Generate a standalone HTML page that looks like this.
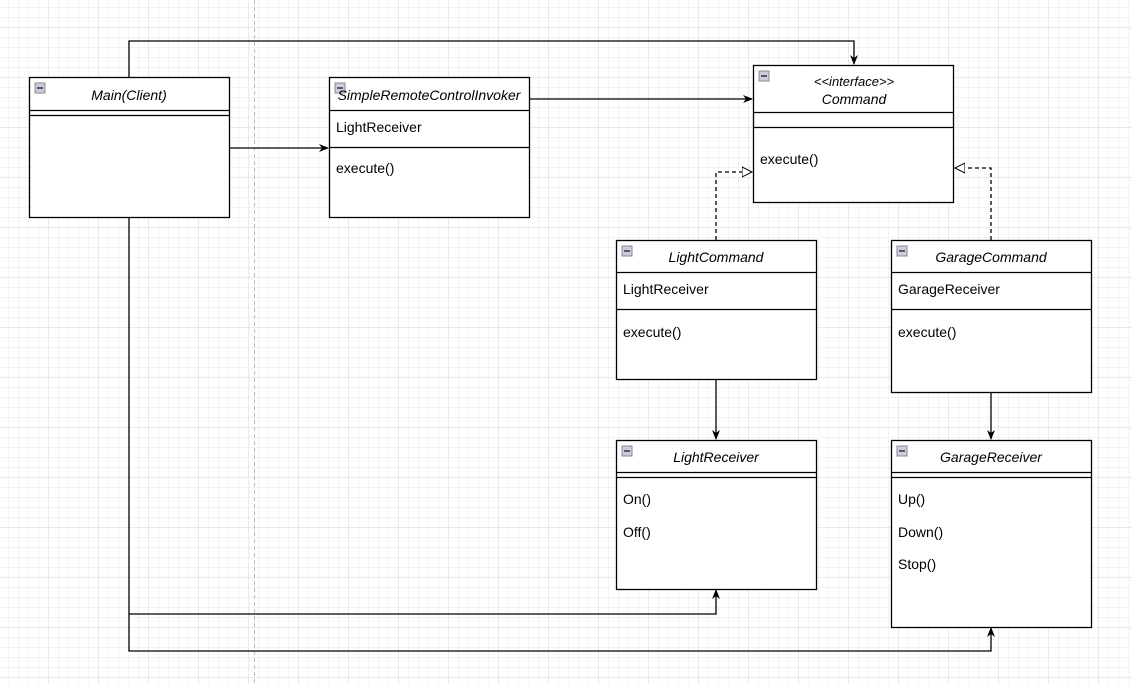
<!DOCTYPE html>
<html><head><style>
html,body{margin:0;padding:0;background:#fff}
svg text{font-family:"Liberation Sans",Arial,sans-serif;font-size:14px;fill:#000}
.t{font-style:italic;text-anchor:middle}
</style></head><body>
<svg width="1132" height="684" xmlns="http://www.w3.org/2000/svg">
<defs>
<pattern id="g" width="10" height="10" patternUnits="userSpaceOnUse" x="9" y="8">
<path d="M10 0V10M0 10H10" stroke="#e9e9e9" stroke-width="1" fill="none"/>
</pattern>
<pattern id="G" width="50" height="50" patternUnits="userSpaceOnUse" x="-1" y="28">
<path d="M50 0V50M0 50H50" stroke="#d4d4d4" stroke-width="1" fill="none"/>
</pattern>
<marker id="a" markerWidth="10" markerHeight="10" refX="9" refY="5" orient="auto" markerUnits="userSpaceOnUse">
<path d="M0 1 L10 5 L0 9 L3 5Z" fill="#000"/></marker>
<marker id="h" markerWidth="12" markerHeight="12" refX="10" refY="6" orient="auto" markerUnits="userSpaceOnUse">
<path d="M0 1 L10 6 L0 11Z" fill="#fff" stroke="#000"/></marker>
<g id="ic"><rect x="0" y="0" width="10" height="10" fill="#ccd" stroke="#889" stroke-width="1"/><path d="M2 5H8" stroke="#333" stroke-width="1.5"/></g>
</defs>
<rect width="1132" height="684" fill="url(#g)"/>
<rect width="1132" height="684" fill="url(#G)"/>
<line x1="254.5" y1="0" x2="254.5" y2="684" stroke="#bbb" stroke-dasharray="4,3"/>
<g fill="none" stroke="#000" stroke-width="1.3">
<path d="M129 77V41H854V64" marker-end="url(#a)"/>
<path d="M229 148H328" marker-end="url(#a)"/>
<path d="M529 99H752" marker-end="url(#a)"/>
<path d="M716 240V172H752" stroke-dasharray="4,3" marker-end="url(#h)"/>
<path d="M991 240V168H955" stroke-dasharray="4,3" marker-end="url(#h)"/>
<path d="M716 379V439" marker-end="url(#a)"/>
<path d="M991 392V439" marker-end="url(#a)"/>
<path d="M129 217V614H716V590" marker-end="url(#a)"/>
<path d="M129 614V651H991V628" marker-end="url(#a)"/>
</g>
<g fill="#fff" stroke="#000" stroke-width="1.3">
<rect x="29.5" y="77.5" width="200" height="140"/>
<rect x="329.5" y="77.5" width="200" height="140"/>
<rect x="753.5" y="65.5" width="200" height="137"/>
<rect x="616.5" y="240.5" width="200" height="139"/>
<rect x="891.5" y="240.5" width="200" height="152"/>
<rect x="616.5" y="440.5" width="200" height="149"/>
<rect x="891.5" y="440.5" width="200" height="187"/>
</g>
<g stroke="#000" stroke-width="1.3">
<path d="M29 110.5H229M29 115.5H229"/>
<path d="M329 110.5H529M329 147.5H529"/>
<path d="M753 112.5H954M753 127.5H954"/>
<path d="M616 272.5H816M616 309.5H816"/>
<path d="M891 272.5H1091M891 309.5H1091"/>
<path d="M616 472.5H816M616 477.5H816"/>
<path d="M891 472.5H1091M891 477.5H1091"/>
</g>
<use href="#ic" x="35" y="83"/><use href="#ic" x="335" y="83"/><use href="#ic" x="759" y="71"/>
<use href="#ic" x="622" y="246"/><use href="#ic" x="897" y="246"/><use href="#ic" x="622" y="446"/><use href="#ic" x="897" y="446"/>
<text class="t" x="129" y="100">Main(Client)</text>
<text class="t" x="429" y="100">SimpleRemoteControlInvoker</text>
<text x="336" y="132">LightReceiver</text>
<text x="336" y="173">execute()</text>
<text class="t" x="854" y="86" style="font-size:13px">&lt;&lt;interface&gt;&gt;</text>
<text class="t" x="854" y="104">Command</text>
<text x="760" y="164">execute()</text>
<text class="t" x="716" y="262">LightCommand</text>
<text x="623" y="294">LightReceiver</text>
<text x="623" y="337">execute()</text>
<text class="t" x="991" y="262">GarageCommand</text>
<text x="898" y="294">GarageReceiver</text>
<text x="898" y="337">execute()</text>
<text class="t" x="716" y="462">LightReceiver</text>
<text x="623" y="504">On()</text>
<text x="623" y="537">Off()</text>
<text class="t" x="991" y="462">GarageReceiver</text>
<text x="898" y="504">Up()</text>
<text x="898" y="537">Down()</text>
<text x="898" y="569">Stop()</text>
</svg>
</body></html>
